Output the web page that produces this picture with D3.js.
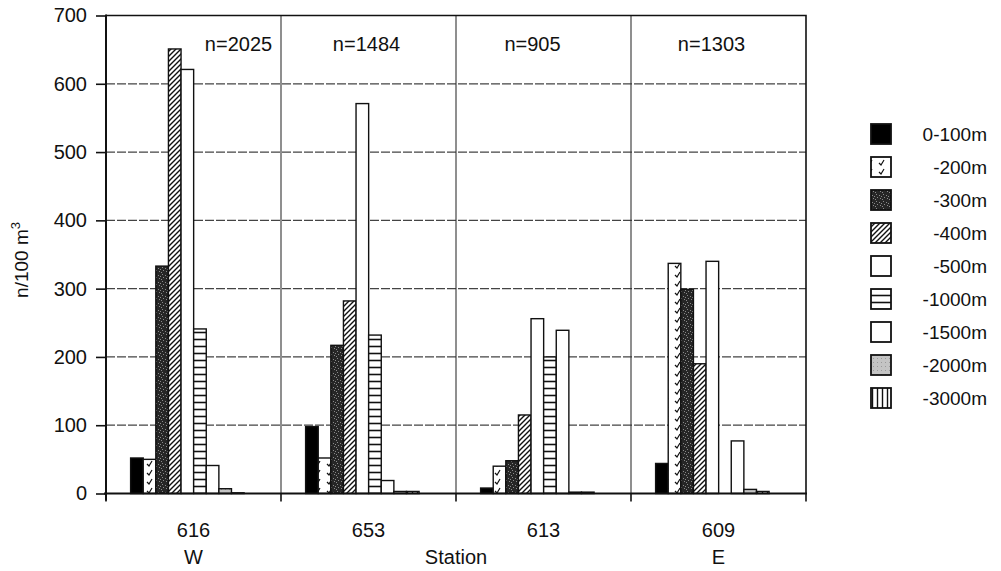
<!DOCTYPE html>
<html><head><meta charset="utf-8">
<script src="https://cdn.jsdelivr.net/npm/d3@7"></script>
<style>
body{margin:0;background:#fff}
svg{display:block;background:#fff}
text{font-family:"Liberation Sans",Arial,Helvetica,sans-serif;fill:#111}
</style>
</head><body>
<svg id="c" width="1001" height="571"></svg>
<script>
// ---- data ----
const stations = ["616", "653", "613", "609"];
const directions = ["W", "", "", "E"];
const counts = ["n=2025", "n=1484", "n=905", "n=1303"];
const depthLabels = ["0-100m", "-200m", "-300m", "-400m", "-500m", "-1000m", "-1500m", "-2000m", "-3000m"];
const d0_100 = [52, 98, 8, 44];
const d200 = [50, 52, 40, 337];
const d300 = [333, 217, 48, 299];
const d400 = [651, 282, 115, 190];
const d500 = [621, 571, 256, 340];
const d1000 = [241, 232, 200, 0];
const d1500 = [41, 19, 239, 77];
const d2000 = [7, 3, 2, 6];
const d3000 = [1, 3, 2, 3];
const yTicks = [0, 100, 200, 300, 400, 500, 600, 700];
const yTitle = "n/100 m";
const xTitle = "Station";

const seriesValues = [d0_100, d200, d300, d400, d500, d1000, d1500, d2000, d3000];
const fills = ["black", "url(#p200)", "url(#p300)", "url(#p400)", "white", "url(#p1000)", "white", "url(#p2000)", "url(#p3000)"];

// ---- layout ----
const L = 106, R = 806, T = 15.5, B = 493.5;
const svg = d3.select("#c");
const defs = svg.append("defs");

// patterns
const p200 = defs.append("pattern").attr("id", "p200").attr("patternUnits", "userSpaceOnUse").attr("width", 12).attr("height", 9);
p200.append("rect").attr("width", 12).attr("height", 9).attr("fill", "white");
p200.append("path").attr("d", "M3,5 L5,7 L8,2").attr("fill", "none").attr("stroke", "#111").attr("stroke-width", 1.2);

const p300 = defs.append("pattern").attr("id", "p300").attr("patternUnits", "userSpaceOnUse").attr("width", 7).attr("height", 7);
p300.append("rect").attr("width", 7).attr("height", 7).attr("fill", "#262626");
[[1,1],[4,2],[2,4],[5,5],[0,6],[6,3]].forEach(([a,b]) => p300.append("rect").attr("x", a).attr("y", b).attr("width", 1).attr("height", 1).attr("fill", "#8a8a8a"));

const p400 = defs.append("pattern").attr("id", "p400").attr("patternUnits", "userSpaceOnUse").attr("width", 5).attr("height", 5);
p400.append("rect").attr("width", 5).attr("height", 5).attr("fill", "white");
p400.append("path").attr("d", "M-1,6 L6,-1 M-1,1 L1,-1 M4,6 L6,4").attr("stroke", "#111").attr("stroke-width", 1.4);

const p1000 = defs.append("pattern").attr("id", "p1000").attr("patternUnits", "userSpaceOnUse").attr("width", 6).attr("height", 7);
p1000.append("rect").attr("width", 6).attr("height", 7).attr("fill", "white");
p1000.append("line").attr("x1", 0).attr("x2", 6).attr("y1", 3.5).attr("y2", 3.5).attr("stroke", "#111").attr("stroke-width", 1.6);

const p2000 = defs.append("pattern").attr("id", "p2000").attr("patternUnits", "userSpaceOnUse").attr("width", 4).attr("height", 4);
p2000.append("rect").attr("width", 4).attr("height", 4).attr("fill", "#c4c4c4");
p2000.append("rect").attr("x", 1).attr("y", 1).attr("width", 1).attr("height", 1).attr("fill", "#999");

const p3000 = defs.append("pattern").attr("id", "p3000").attr("patternUnits", "userSpaceOnUse").attr("width", 5).attr("height", 6);
p3000.append("rect").attr("width", 5).attr("height", 6).attr("fill", "white");
p3000.append("line").attr("x1", 2.5).attr("x2", 2.5).attr("y1", 0).attr("y2", 6).attr("stroke", "#111").attr("stroke-width", 1.4);

// scales
const x0 = d3.scaleBand().domain(stations).range([L, R]).paddingInner(0).paddingOuter(0);
const x1 = d3.scaleBand().domain(depthLabels).range([0, x0.bandwidth()]).paddingInner(0).paddingOuter(2.44).align(0.4);
const y = d3.scaleLinear().domain([0, 700]).range([B, T]);

// grid
svg.append("g").selectAll("line").data(yTicks.filter(t => t > 0 && t < 700)).join("line")
  .attr("x1", L).attr("x2", R).attr("y1", d => y(d)).attr("y2", d => y(d))
  .attr("stroke", "#444").attr("stroke-width", 1.3).attr("stroke-dasharray", "9,2");

// station separators
svg.append("g").selectAll("line").data(stations.slice(1)).join("line")
  .attr("x1", d => x0(d)).attr("x2", d => x0(d)).attr("y1", T).attr("y2", B)
  .attr("stroke", "#333").attr("stroke-width", 1.1);

// frame (top, right)
svg.append("path").attr("d", `M${L},${T} H${R} V${B}`).attr("fill", "none").attr("stroke", "#111").attr("stroke-width", 1.6);

// bars
const table = [];
stations.forEach((s, i) => depthLabels.forEach((d, j) => table.push({station: s, depth: d, j, value: seriesValues[j][i]})));
svg.append("g").selectAll("rect").data(table).join("rect")
  .attr("x", d => x0(d.station) + x1(d.depth))
  .attr("width", x1.bandwidth())
  .attr("y", d => y(d.value))
  .attr("height", d => B - y(d.value))
  .attr("fill", d => fills[d.j])
  .attr("stroke", "#111").attr("stroke-width", 1.4);

// y axis
const yAxis = svg.append("g").attr("transform", `translate(${L},0)`)
  .call(d3.axisLeft(y).tickValues(yTicks).tickSize(10).tickPadding(9).tickSizeOuter(0));
yAxis.select(".domain").remove();
yAxis.selectAll(".tick line").attr("stroke", "#111").attr("stroke-width", 1.6);
yAxis.selectAll("text").attr("font-size", 20).attr("fill", "#111").style("font-family", '"Liberation Sans",Arial,sans-serif');
svg.append("line").attr("x1", L).attr("x2", L).attr("y1", T - 1).attr("y2", B + 7).attr("stroke", "#111").attr("stroke-width", 2);

// x axis
svg.append("line").attr("x1", L - 2).attr("x2", R + 1).attr("y1", B).attr("y2", B).attr("stroke", "#111").attr("stroke-width", 2.2);
const edges = stations.map(s => x0(s)).concat([x0(stations[stations.length - 1]) + x0.bandwidth()]);
svg.append("g").selectAll("line").data(edges).join("line")
  .attr("x1", d => d).attr("x2", d => d).attr("y1", B).attr("y2", B + 8)
  .attr("stroke", "#111").attr("stroke-width", 1.6);

svg.append("g").selectAll("text").data(stations).join("text")
  .attr("x", d => x0(d) + x0.bandwidth() / 2).attr("y", 537)
  .attr("text-anchor", "middle").attr("font-size", 20).text(d => d);
svg.append("g").selectAll("text").data(stations.map((s, i) => ({s, t: directions[i]}))).join("text")
  .attr("x", d => x0(d.s) + x0.bandwidth() / 2).attr("y", 564)
  .attr("text-anchor", "middle").attr("font-size", 20).text(d => d.t);
svg.append("text").attr("x", (L + R) / 2).attr("y", 564).attr("text-anchor", "middle").attr("font-size", 20).text(xTitle);

// n= labels
const countOffsets = [45, -2, -11, -7];
svg.append("g").selectAll("text").data(stations.map((s, i) => ({s, t: counts[i], o: countOffsets[i]}))).join("text")
  .attr("x", d => x0(d.s) + x0.bandwidth() / 2 + d.o).attr("y", 51)
  .attr("text-anchor", "middle").attr("font-size", 20).text(d => d.t);

// y title
const yt = svg.append("text").attr("transform", "translate(28,260) rotate(-90)").attr("text-anchor", "middle").attr("font-size", 19);
yt.append("tspan").text(yTitle);
yt.append("tspan").attr("dy", -8).attr("font-size", 13).text("3");

// legend
const ly = d3.scalePoint().domain(depthLabels).range([134, 398]);
const lg = svg.append("g").selectAll("g").data(depthLabels).join("g").attr("transform", d => `translate(0,${ly(d)})`);
lg.append("rect").attr("x", 871).attr("y", -10).attr("width", 20).attr("height", 20)
  .attr("fill", (d, i) => fills[i]).attr("stroke", "#111").attr("stroke-width", 1.8);
lg.append("text").attr("x", 987).attr("y", 7).attr("text-anchor", "end").attr("font-size", 19).text(d => d);
</script>
</body></html>
